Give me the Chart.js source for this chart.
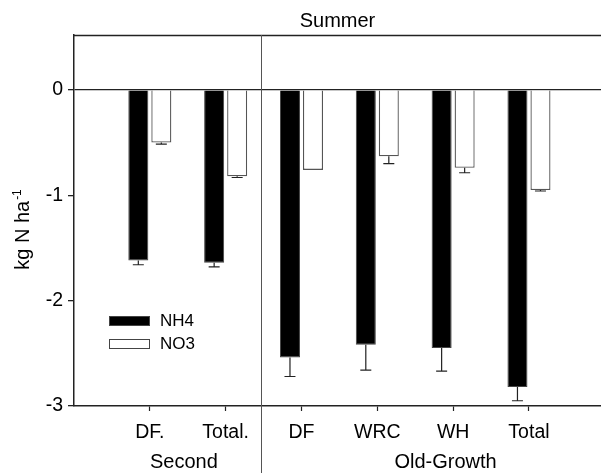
<!DOCTYPE html>
<html>
<head>
<meta charset="utf-8">
<script src="https://cdn.jsdelivr.net/npm/chart.js@4.4.1/dist/chart.umd.min.js"></script>
<style>
html, body { margin: 0; padding: 0; background: #fff; overflow: hidden; }
</style>
</head>
<body>
<canvas id="summerChart" width="601" height="473"></canvas>
<script>
const categories = ['DF.', 'Total.', 'DF', 'WRC', 'WH', 'Total'];
const groupLabels = ['Second', 'Old-Growth'];
const groupCenters = [1.45, 4.9];
const dividerAt = 2.46;
const nh4Values = [-1.62, -1.64, -2.54, -2.42, -2.45, -2.82];
const nh4Errors = [0.04, 0.04, 0.18, 0.24, 0.22, 0.13];
const no3Values = [-0.50, -0.82, -0.76, -0.63, -0.74, -0.95];
const no3Errors = [0.015, 0.012, 0.005, 0.07, 0.047, 0.01];
const yTicks = [0, -1, -2, -3];

const FAMILY = '"Liberation Sans", Arial, sans-serif';
const INK = '#222';

function toPoints(values) {
    return values.map((v, i) => ({ x: i + 1, y: v }));
}

const errorBars = {
    id: 'errorBars',
    afterDatasetsDraw(chart) {
        const ctx = chart.ctx;
        const yScale = chart.scales.y;
        ctx.save();
        ctx.strokeStyle = INK;
        ctx.lineWidth = 1.2;
        chart.data.datasets.forEach((ds, di) => {
            const meta = chart.getDatasetMeta(di);
            meta.data.forEach((bar, i) => {
                const err = ds.errors[i];
                const yEnd = yScale.getPixelForValue(ds.data[i].y - err);
                if (yEnd - bar.y < 1) return;
                ctx.beginPath();
                ctx.moveTo(bar.x, bar.y);
                ctx.lineTo(bar.x, yEnd);
                ctx.moveTo(bar.x - 5.5, yEnd);
                ctx.lineTo(bar.x + 5.5, yEnd);
                ctx.stroke();
            });
        });
        ctx.restore();
    }
};

const decorations = {
    id: 'decorations',
    afterDraw(chart) {
        const ctx = chart.ctx;
        const area = chart.chartArea;
        const x = chart.scales.x;
        ctx.save();

        // top frame line
        ctx.strokeStyle = INK;
        ctx.lineWidth = 1.5;
        ctx.beginPath();
        ctx.moveTo(area.left, area.top + 0.5);
        ctx.lineTo(area.right, area.top + 0.5);
        ctx.stroke();

        // divider between stand types
        const dx = Math.round(x.getPixelForValue(dividerAt)) + 0.5;
        ctx.strokeStyle = '#555';
        ctx.lineWidth = 1;
        ctx.beginPath();
        ctx.moveTo(dx, area.top);
        ctx.lineTo(dx, chart.height);
        ctx.stroke();

        ctx.fillStyle = '#000';
        ctx.textAlign = 'center';
        ctx.textBaseline = 'alphabetic';

        // title
        ctx.font = '20px ' + FAMILY;
        ctx.fillText('Summer', (area.left + area.right) / 2, 27);

        // group labels
        groupLabels.forEach((g, i) => {
            ctx.fillText(g, x.getPixelForValue(groupCenters[i]), 468);
        });

        // y axis title with superscript
        ctx.save();
        ctx.translate(29, 230);
        ctx.rotate(-Math.PI / 2);
        ctx.font = '20px ' + FAMILY;
        const main = 'kg N ha';
        const wMain = ctx.measureText(main).width;
        ctx.font = '12px ' + FAMILY;
        const sup = '-1';
        const wSup = ctx.measureText(sup).width;
        const start = -(wMain + wSup) / 2;
        ctx.textAlign = 'left';
        ctx.font = '20px ' + FAMILY;
        ctx.fillText(main, start, 0);
        ctx.font = '12px ' + FAMILY;
        ctx.fillText(sup, start + wMain + 1, -8);
        ctx.restore();

        // legend
        const lx = area.left + 35;
        const items = chart.data.datasets.map((ds, i) => ({ ds, top: i === 0 ? 316 : 339 }));
        ctx.font = '17px ' + FAMILY;
        ctx.textAlign = 'left';
        ctx.textBaseline = 'middle';
        items.forEach(({ ds, top }) => {
            ctx.fillStyle = ds.backgroundColor;
            ctx.fillRect(lx, top, 41, 10);
            ctx.strokeStyle = '#444';
            ctx.lineWidth = 1;
            ctx.strokeRect(lx + 0.5, top + 0.5, 40, 9);
            ctx.fillStyle = '#000';
            ctx.fillText(ds.label, lx + 51, top + 5.5);
        });

        ctx.restore();
    }
};

new Chart(document.getElementById('summerChart'), {
    type: 'bar',
    data: {
        datasets: [{
            label: 'NH4',
            data: toPoints(nh4Values),
            errors: nh4Errors,
            backgroundColor: '#000',
            borderColor: '#444',
            borderWidth: 1
        }, {
            label: 'NO3',
            data: toPoints(no3Values),
            errors: no3Errors,
            backgroundColor: '#fff',
            borderColor: '#555',
            borderWidth: 1.3
        }]
    },
    options: {
        responsive: false,
        animation: false,
        devicePixelRatio: 1,
        categoryPercentage: 0.607,
        barPercentage: 0.87,
        layout: { padding: { top: 35, left: 0, right: 0, bottom: 0 } },
        plugins: {
            legend: { display: false },
            title: { display: false },
            tooltip: { enabled: false }
        },
        scales: {
            x: {
                type: 'linear',
                min: 0,
                max: 6.95,
                offset: false,
                afterBuildTicks: s => { s.ticks = categories.map((c, i) => ({ value: i + 1 })); },
                afterFit: s => { s.height = 67; },
                ticks: {
                    callback: v => categories[v - 1] ?? '',
                    font: { family: FAMILY, size: 19.5 },
                    color: '#000',
                    padding: 10,
                    maxRotation: 0,
                    autoSkip: false
                },
                grid: { offset: false, drawOnChartArea: false, tickLength: 5, tickColor: INK, tickWidth: 1.2 },
                border: { color: INK, width: 1.5 }
            },
            y: {
                min: -3,
                max: 0.52,
                afterBuildTicks: s => { s.ticks = yTicks.map(v => ({ value: v })); },
                afterFit: s => { s.width = 74; },
                ticks: {
                    font: { family: FAMILY, size: 19.5 },
                    color: '#000',
                    padding: 5
                },
                grid: {
                    color: c => (c.tick && c.tick.value === 0 ? INK : 'rgba(0,0,0,0)'),
                    lineWidth: 1.3,
                    tickLength: 6,
                    tickColor: INK
                },
                border: { color: INK, width: 1.5 }
            }
        }
    },
    plugins: [errorBars, decorations]
});
</script>
</body>
</html>
